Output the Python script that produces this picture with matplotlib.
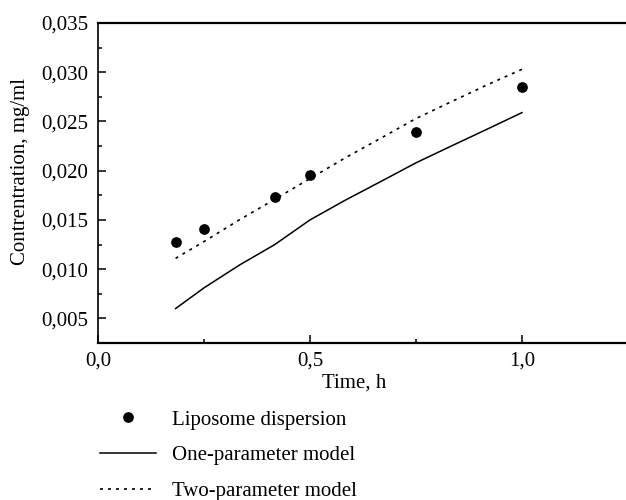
import matplotlib
matplotlib.use("Agg")
import matplotlib.pyplot as plt
from matplotlib.ticker import FuncFormatter, MultipleLocator


# Measured points (liposome dispersion)
TIME_POINTS = [0.183, 0.25, 0.417, 0.5, 0.75, 1.0]
CONC_POINTS = [0.0128, 0.0141, 0.0173, 0.0196, 0.0239, 0.0285]

# Model curves
TIME_MODEL = [0.183, 0.25, 0.333, 0.417, 0.5, 0.583, 0.667, 0.75, 0.833, 0.917, 1.0]
ONE_PARAM = [0.0060, 0.0081, 0.0104, 0.0125, 0.0150, 0.0170, 0.0189, 0.0208, 0.0225, 0.0242, 0.0259]
TWO_PARAM = [0.0111, 0.0128, 0.0150, 0.0171, 0.0192, 0.0213, 0.0233, 0.0253, 0.0270, 0.0287, 0.0303]

LABELS = ["Liposome dispersion", "One-parameter model", "Two-parameter model"]

plt.rcParams["font.family"] = ["Liberation Serif", "DejaVu Serif"]
plt.rcParams["font.size"] = 15

W, H = 626, 500
fig = plt.figure(figsize=(W / 100, H / 100), dpi=100)

left_px, bottom_px, top_px = 98, 343, 23
x_max = 1.25
px_per_x = 424
ax = fig.add_axes([
    left_px / W,
    (H - bottom_px) / H,
    x_max * px_per_x / W,
    (bottom_px - top_px) / H,
])

pts, = ax.plot(TIME_POINTS, CONC_POINTS, "o", color="black", markersize=6.7,
               label=LABELS[0])
one, = ax.plot(TIME_MODEL, ONE_PARAM, "-", color="black", linewidth=1.1,
               label=LABELS[1])
two, = ax.plot(TIME_MODEL, TWO_PARAM, color="black", linewidth=1.2,
               linestyle=(0, (1.8, 3.0)), label=LABELS[2])

ax.set_xlim(0, x_max)
ax.set_ylim(0.0025, 0.035)

ax.xaxis.set_major_locator(MultipleLocator(0.5))
ax.xaxis.set_minor_locator(MultipleLocator(0.25))
ax.yaxis.set_major_locator(MultipleLocator(0.005))
ax.yaxis.set_minor_locator(MultipleLocator(0.0025))

ax.xaxis.set_major_formatter(FuncFormatter(lambda v, p: f"{v:.1f}".replace(".", ",")))
ax.yaxis.set_major_formatter(FuncFormatter(lambda v, p: f"{v:.3f}".replace(".", ",")))

ax.tick_params(which="both", direction="in", top=False, right=False, width=1.1)
ax.tick_params(which="major", length=6, pad=6)
ax.tick_params(which="minor", length=3)
ax.tick_params(axis="y", which="major", pad=7)

ax.spines["right"].set_visible(False)
ax.spines["top"].set_linewidth(1.6)
ax.spines["bottom"].set_linewidth(1.6)
ax.spines["left"].set_linewidth(1.2)

ax.set_xlabel("Time, h")
ax.set_ylabel("Contrentration, mg/ml")
ax.xaxis.set_label_coords(0.484, -0.095)
ax.yaxis.set_label_coords(-0.128, 0.537)

fig.legend(
    handles=[pts, one, two],
    loc="upper left",
    bbox_to_anchor=(100 / W, (H - 410) / H),
    frameon=False,
    borderpad=0,
    borderaxespad=0,
    handlelength=2.7,
    handletextpad=0.75,
    labelspacing=0.78,
    numpoints=1,
)

fig.savefig("out.png", dpi=100)
